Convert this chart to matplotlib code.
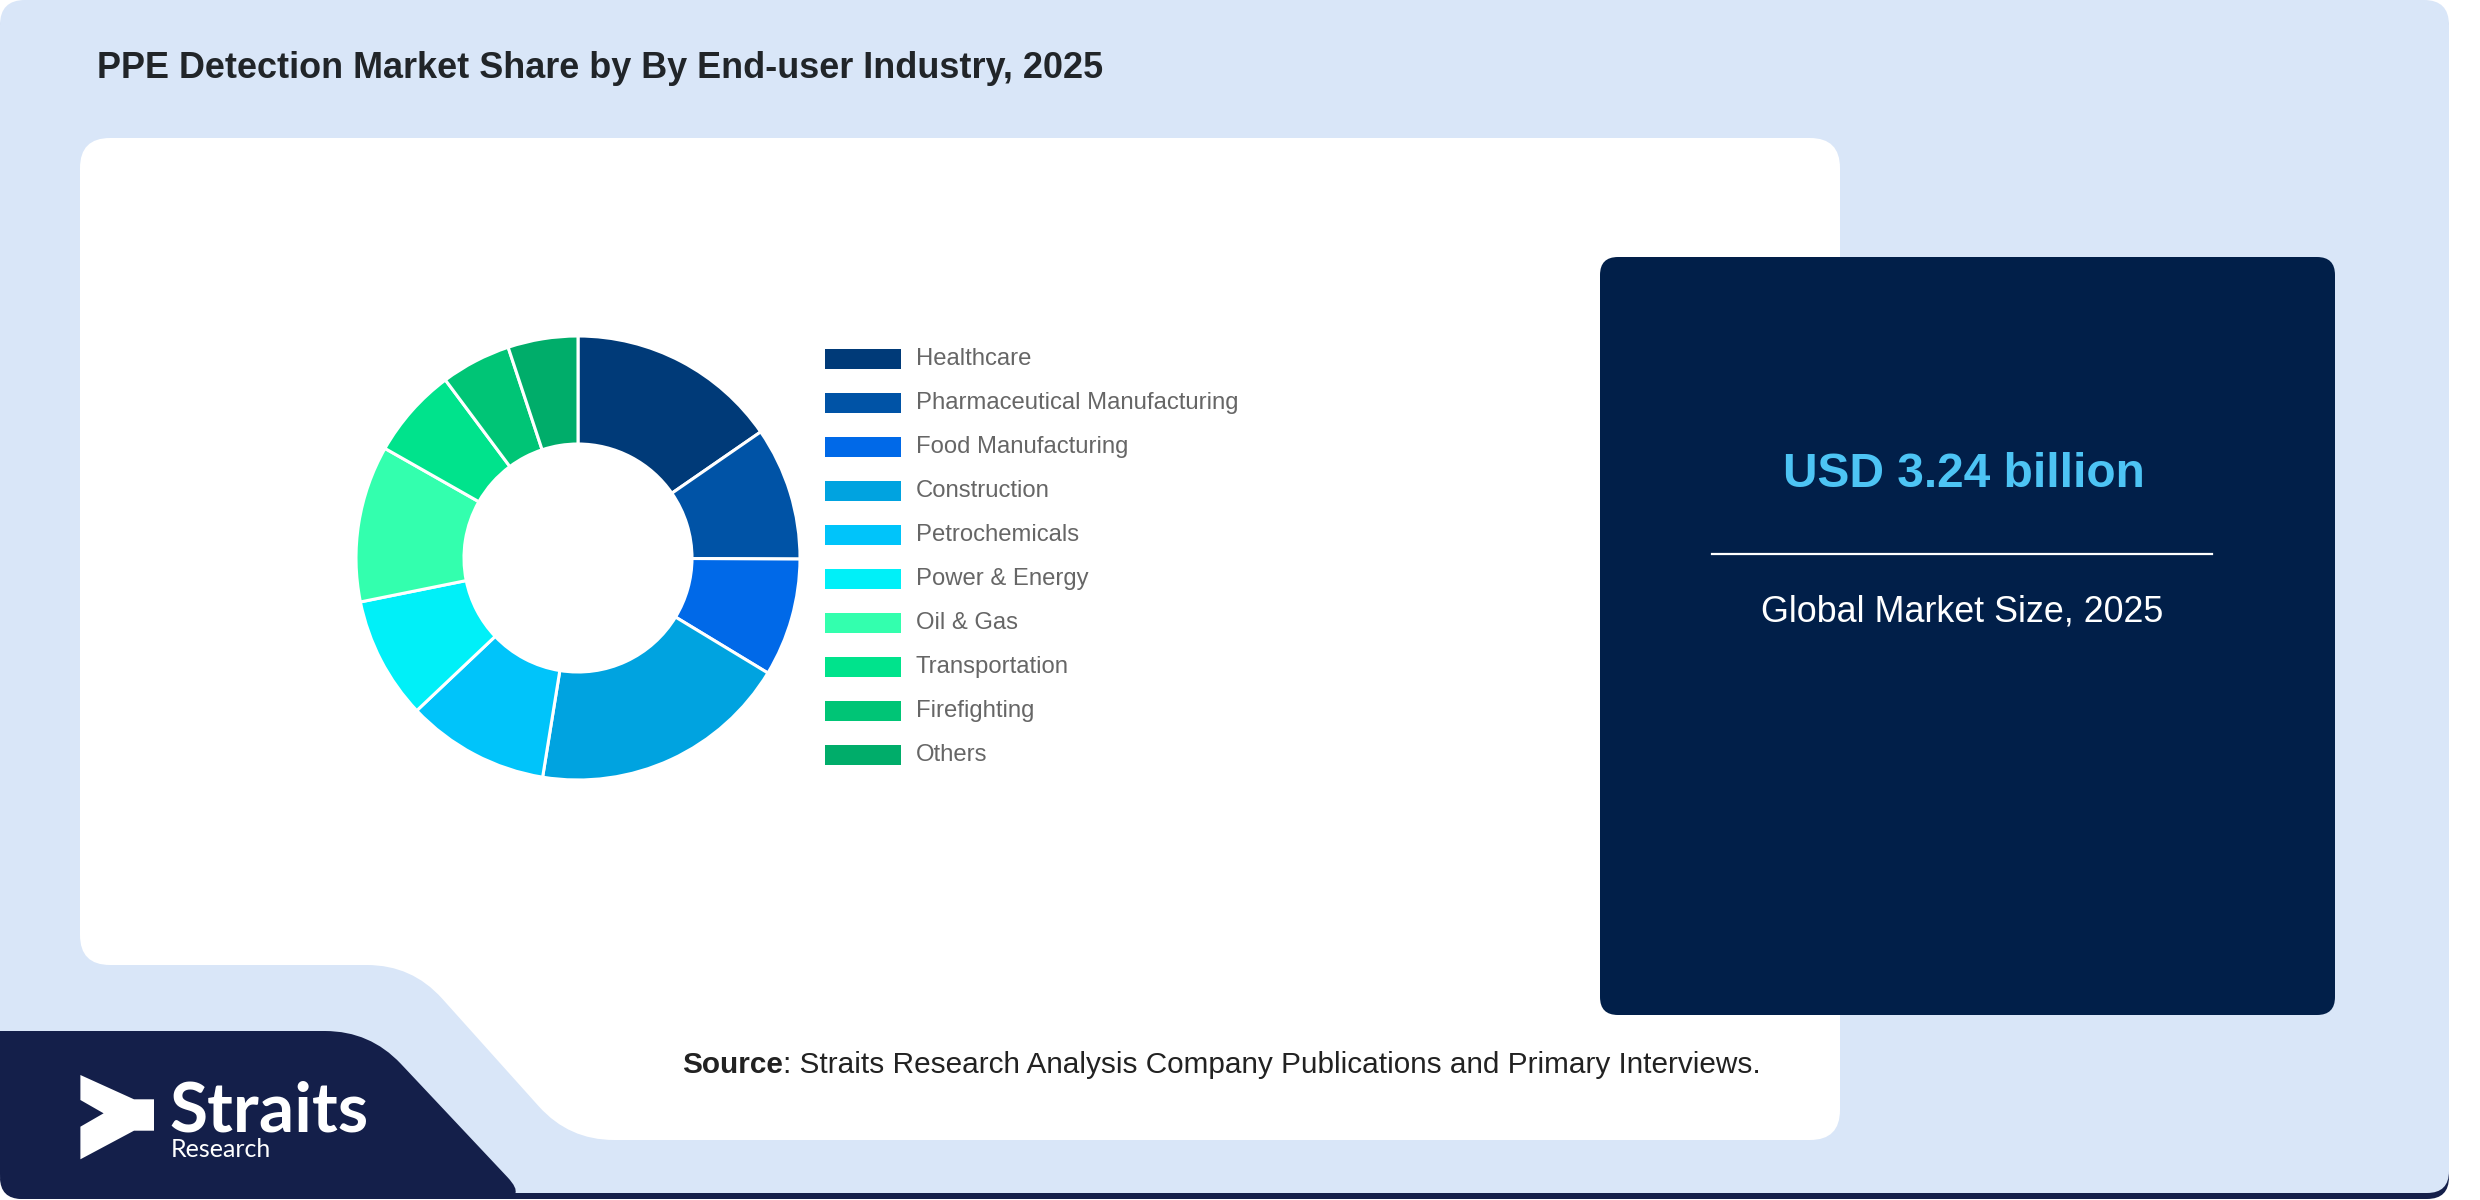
import numpy as np
import matplotlib
matplotlib.use("Agg")
import matplotlib.pyplot as plt
from matplotlib.path import Path
from matplotlib.patches import PathPatch, Rectangle, Polygon

plt.rcParams['font.family'] = ['Liberation Sans', 'DejaVu Sans']

# ---------------- data ----------------
title = "PPE Detection Market Share by By End-user Industry, 2025"
categories = ["Healthcare", "Pharmaceutical Manufacturing", "Food Manufacturing",
              "Construction", "Petrochemicals", "Power & Energy", "Oil & Gas",
              "Transportation", "Firefighting", "Others"]
shares = [15.4, 9.7, 8.6, 18.9, 10.4, 8.9, 11.4, 6.6, 5.1, 5.1]
colors = ["#003A78", "#0053A6", "#0069E8", "#00A3E0", "#00C4FA",
          "#00F0F8", "#33FFAE", "#00E38C", "#00C576", "#00AD6A"]
market_value = "USD 3.24 billion"
market_label = "Global Market Size, 2025"
source_bold = "Source"
source_rest = ": Straits Research Analysis Company Publications and Primary Interviews."

W, H = 2480, 1200
fig = plt.figure(figsize=(W / 100, H / 100), dpi=100)
fig.patch.set_facecolor("white")
bg = fig.add_axes([0, 0, 1, 1])
bg.set_xlim(0, W)
bg.set_ylim(H, 0)
bg.axis("off")


def rounded_path(pts, radii):
    pts = [np.array(p, float) for p in pts]
    n = len(pts)
    verts, codes = [], []
    for i in range(n):
        p0, p1, p2 = pts[i - 1], pts[i], pts[(i + 1) % n]
        r = radii[i]
        d1 = (p0 - p1) / np.linalg.norm(p0 - p1)
        d2 = (p2 - p1) / np.linalg.norm(p2 - p1)
        a = p1 + d1 * r
        b = p1 + d2 * r
        verts.append(a)
        codes.append(Path.MOVETO if i == 0 else Path.LINETO)
        verts += [p1, b]
        codes += [Path.CURVE3, Path.CURVE3]
    verts.append(verts[0])
    codes.append(Path.CLOSEPOLY)
    return Path(verts, codes)


def add_shape(pts, radii, color, z):
    bg.add_patch(PathPatch(rounded_path(pts, radii), facecolor=color,
                           edgecolor="none", zorder=z))


NAVY = "#141F4A"
# shadow under light card
add_shape([(0, 6), (2449, 6), (2449, 1199), (0, 1199)], [25, 25, 22, 22], NAVY, 1)
# light blue card
add_shape([(0, 0), (2449, 0), (2449, 1193), (0, 1193)], [25, 25, 22, 22], "#D9E6F8", 2)
# white chart card with notch
add_shape([(80, 138), (1840, 138), (1840, 1140), (569, 1140), (412, 965), (80, 965)],
          [30, 30, 30, 45, 45, 30], "white", 3)
# logo panel
add_shape([(0, 1031), (370, 1031), (528, 1199), (0, 1199)], [0.01, 45, 30, 25], NAVY, 4)
# right dark box
add_shape([(1600, 257), (2335, 257), (2335, 1015), (1600, 1015)], [18, 18, 18, 18], "#011F49", 5)

# title
bg.text(97, 78, title, fontsize=25.9, fontweight="bold", color="#212529",
        va="baseline", ha="left", zorder=10)

# market size box texts
bg.text(1964, 487, market_value, fontsize=34.5, fontweight="bold", color="#4DC4F4",
        ha="center", va="baseline", zorder=10)
bg.plot([1712, 2212], [554, 554], color="white", lw=1.6, zorder=10)
bg.text(1962, 622, market_label, fontsize=25.8, color="white",
        ha="center", va="baseline", zorder=10)

# source
t1 = bg.text(682, 1073, source_bold, fontsize=21.4, fontweight="bold", color="#222222",
             ha="left", va="baseline", zorder=10)
fig.canvas.draw()
ext = t1.get_window_extent(renderer=fig.canvas.get_renderer())
bg.text(ext.x1, 1073, source_rest, fontsize=21.4, color="#222222",
        ha="left", va="baseline", zorder=10)

# logo
arrow = [(80.4, 1075), (134, 1099.3), (154, 1099.3), (154, 1130.7), (134, 1130.7),
         (80.4, 1159.3), (80.4, 1126.7), (103.6, 1113.3), (80.4, 1100)]
bg.add_patch(Polygon(arrow, closed=True, facecolor="white", edgecolor="none", zorder=10))
bg.text(169, 1132, "Straits", fontsize=50, fontweight="bold", color="white",
        family=["Lato", "DejaVu Sans"], ha="left", va="baseline", zorder=10)
bg.text(171, 1157, "Research", fontsize=18, color="white",
        family=["Lato", "DejaVu Sans"], ha="left", va="baseline", zorder=10)

# legend
for i, (cat, col) in enumerate(zip(categories, colors)):
    y = 359 + 44 * i
    bg.add_patch(Rectangle((825, y - 10), 76, 20, facecolor=col, edgecolor="none", zorder=10))
    bg.text(916, y, cat, fontsize=17.2, color="#666666", ha="left", va="center", zorder=10)

# donut
cx, cy, R, r_in = 578, 558, 222, 114
ax = fig.add_axes([(cx - R) / W, 1 - (cy + R) / H, 2 * R / W, 2 * R / H])
ax.pie(shares, colors=colors, startangle=90, counterclock=False, radius=1,
       wedgeprops=dict(width=1 - r_in / R, edgecolor="white", linewidth=2.2))
ax.set_xlim(-1.0, 1.0)
ax.set_ylim(-1.0, 1.0)
ax.axis("off")

fig.savefig("out.png", dpi=100, facecolor="white")
